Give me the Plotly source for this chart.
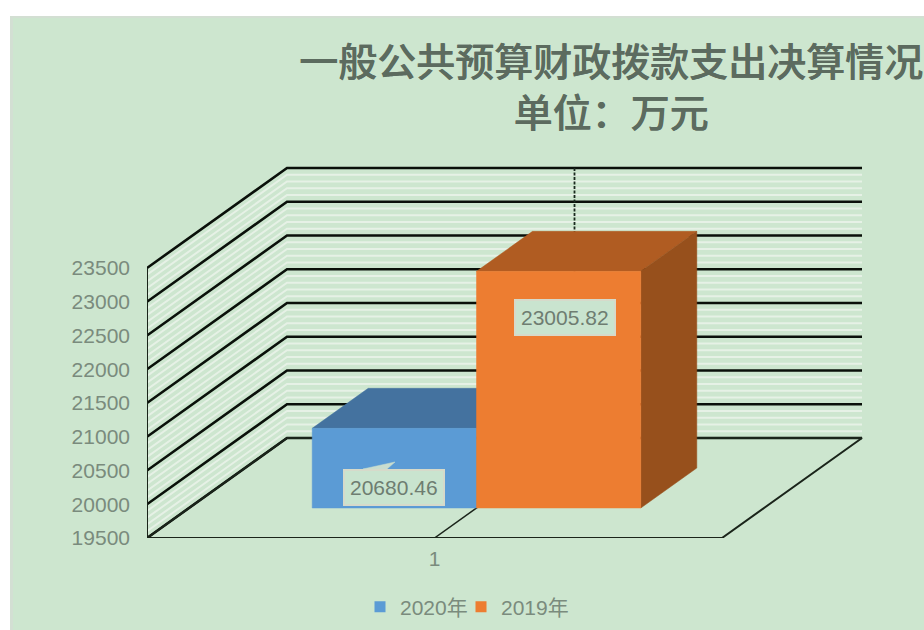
import plotly.graph_objects as go

series_names = ["2020年", "2019年"]
series_values = [20680.46, 23005.82]
series_front = ["#5B9BD5", "#ED7D31"]
series_top = ["#44729F", "#B05C22"]
series_side = ["#3F6A94", "#97501C"]
label_text = ["20680.46", "23005.82"]
category_labels = ["1"]
value_ticks = [19500, 20000, 20500, 21000, 21500, 22000, 22500, 23000, 23500]
minor_ticks = [v for v in range(19500, 23600, 100) if v % 500 != 0]

PX_PER_UNIT = 33.75 / 500
WIDTH_PX = 575
SHIFT_X = 140 / WIDTH_PX          # depth of the box, in x units
SHIFT_Y = 100 / PX_PER_UNIT       # depth of the box, in value units
BASE = 19500
GAP = 0.75 / 3.5
BAR = 1 / 3.5


def proj(x, v, d):
    return x + SHIFT_X * d, v + SHIFT_Y * d


def poly(points):
    xs, ys = zip(*[proj(*p) for p in points])
    return list(xs) + [xs[0]], list(ys) + [ys[0]]


def wall_line(v):
    a, b, c = proj(0, v, 0), proj(0, v, 1), proj(1, v, 1)
    return [a[0], b[0], c[0]], [a[1], b[1], c[1]]


def data_x(p):
    return (p - 147) / WIDTH_PX


def data_y(p):
    return BASE + (538 - p) / PX_PER_UNIT


fig = go.Figure()


def add_line(xs, ys, color, width, dash="solid"):
    fig.add_trace(go.Scatter(x=xs, y=ys, mode="lines", showlegend=False, hoverinfo="skip", cliponaxis=False,
                             line=dict(color=color, width=width, dash=dash)))


for v in minor_ticks:
    xs, ys = wall_line(v)
    add_line(xs, ys, "#E6F1E6", 2)
for v in value_ticks:
    xs, ys = wall_line(v)
    add_line(xs, ys, "#0A100A", 2.6)

# frame: left edge, floor outline, category divider
add_line([0, 0], [BASE, value_ticks[-1]], "#1A241A", 2)
fx, fy = poly([(0, BASE, 0), (1, BASE, 0), (1, BASE, 1), (0, BASE, 1)])
add_line(fx, fy, "#1A241A", 2)
dx, dy = poly([(0.5, BASE, 0), (0.5, BASE, 1)])
add_line(dx[:2], dy[:2], "#1A241A", 1.5)
top = proj(0.5, value_ticks[-1], 1)
bot = proj(0.5, BASE, 1)
add_line([top[0], bot[0]], [top[1], bot[1]], "#1A2A1F", 1.8, "3px,1.5px")

# boxes
D0, D1 = 0.3, 0.7
for i, val in enumerate(series_values):
    x0 = GAP + i * BAR
    x1 = x0 + BAR
    for pts, col in (
        ([(x0, val, D0), (x1, val, D0), (x1, val, D1), (x0, val, D1)], series_top[i]),
        ([(x1, BASE, D0), (x1, BASE, D1), (x1, val, D1), (x1, val, D0)], series_side[i]),
        ([(x0, BASE, D0), (x1, BASE, D0), (x1, val, D0), (x0, val, D0)], series_front[i]),
    ):
        xs, ys = poly(pts)
        fig.add_trace(go.Scatter(x=xs, y=ys, mode="lines", fill="toself", fillcolor=col, cliponaxis=False,
                                 line=dict(color=col, width=0.5), showlegend=False, hoverinfo="skip"))

# callout tail of the first label
tail_x = [data_x(p) for p in (363, 395, 387, 363)]
tail_y = [data_y(p) for p in (469, 462, 469, 469)]
fig.add_trace(go.Scatter(x=tail_x, y=tail_y, mode="lines", fill="toself", fillcolor="#C9DDCF", cliponaxis=False,
                         line=dict(color="#C9DDCF", width=0.5), showlegend=False, hoverinfo="skip"))

# legend entries, one legend each so that they can sit close together
legend_ids = ["legend", "legend2"]
for name, col, lid in zip(series_names, series_front, legend_ids):
    fig.add_trace(go.Scatter(x=[None], y=[None], mode="markers", name=name, legend=lid, showlegend=True,
                             marker=dict(symbol="square", size=11, color=col)))

# data labels
label_pos = [(data_x(394), data_y(487)), (data_x(564.5), data_y(317))]
for txt, (lx, ly) in zip(label_text, label_pos):
    fig.add_annotation(x=lx, y=ly, xref="x", yref="y", text=txt, showarrow=False,
                       font=dict(family="Liberation Sans", size=21, color="#6E7D71"),
                       bgcolor="#C9E4CF", bordercolor="#D6DACA", borderwidth=2, borderpad=5)

plot_w, plot_h = 924 - 147, 538 - 16
px = lambda p: (p - 147) / plot_w
py = lambda p: (538 - p) / plot_h
tick_font = dict(family="Liberation Sans", size=21, color="#7A8B7D")
legend_font = dict(family="Liberation Sans, Noto Sans CJK SC", size=21, color="#7A8B7D")
fig.update_layout(
    width=924, height=630, autosize=False,
    margin=dict(l=147, r=0, t=16, b=92),
    paper_bgcolor="#FFFFFF", plot_bgcolor="rgba(0,0,0,0)",
    font=dict(family="Liberation Sans", size=21, color="#7A8B7D"),
    title=dict(text="一般公共预算财政拨款支出决算情况<br>单位：万元", x=px(611), xref="paper",
               xanchor="center", y=1 - 76 / 630, yref="container", yanchor="middle",
               font=dict(family="Noto Sans CJK SC", size=39, color="#5C6B5F", weight=500,
                         shadow="0.5px 0 0.3px #5C6B5F")),
    xaxis=dict(range=[0, plot_w / WIDTH_PX], showgrid=False, zeroline=False, showline=False,
               tickvals=[0.5], ticktext=category_labels, ticks="", ticklabelstandoff=6, fixedrange=True,
               tickfont=tick_font),
    yaxis=dict(range=[BASE, BASE + plot_h / PX_PER_UNIT], showgrid=False, zeroline=False, showline=False,
               tickvals=value_ticks, tickformat="d", ticks="", ticklabelstandoff=16, fixedrange=True,
               tickfont=tick_font),
    legend=dict(orientation="h", x=px(360), xanchor="left", y=py(607), yanchor="middle",
                bgcolor="rgba(0,0,0,0)", font=legend_font),
    legend2=dict(orientation="h", x=px(461), xanchor="left", y=py(607), yanchor="middle",
                 bgcolor="rgba(0,0,0,0)", font=legend_font),
    shapes=[
        dict(type="rect", xref="paper", yref="paper", x0=px(10), x1=1, y0=py(630), y1=py(16),
             fillcolor="#D3DFD3", line=dict(width=0), layer="below"),
        dict(type="rect", xref="paper", yref="paper", x0=px(13), x1=1, y0=py(630), y1=py(18),
             fillcolor="#CDE6CF", line=dict(width=0), layer="below"),
    ],
)
fig.write_html("out.html", default_width="924px", default_height="630px",
               config={"displayModeBar": False},
               post_script="document.body.style.margin='0';document.documentElement.style.overflow='hidden';")
